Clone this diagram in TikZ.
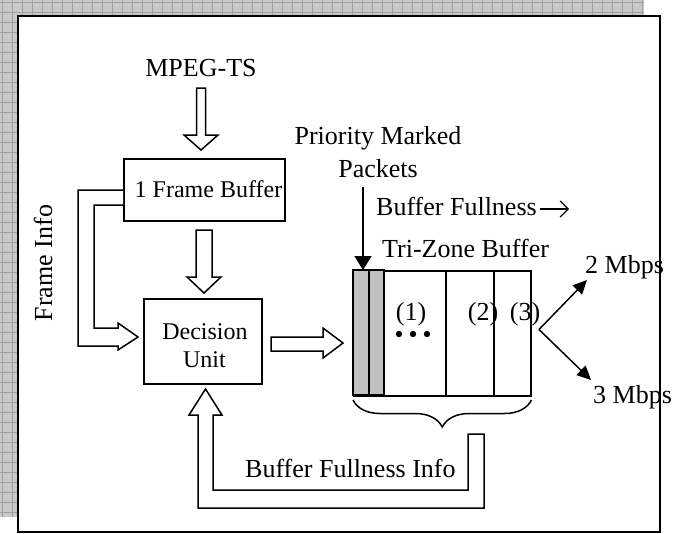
\documentclass[tikz,border=0pt]{standalone}
\usepackage{fontspec}
\setmainfont{Liberation Serif}
\usetikzlibrary{arrows.meta,decorations.pathreplacing}
\definecolor{bggray}{HTML}{C8C8C8}
\definecolor{gridline}{HTML}{A0A0A0}
\definecolor{cellgray}{HTML}{C0C0C0}
\begin{document}
\begin{tikzpicture}[x=1pt,y=-1pt,
  lbl/.style={font=\fontsize{26}{30}\selectfont, inner sep=0pt},
  boxtxt/.style={font=\fontsize{24}{28}\selectfont, inner sep=0pt},
  blk/.style={draw=black, line width=1.5pt, inner sep=0pt},
  hollow/.style={draw=black, line width=1.5pt, fill=white, line join=miter},
  thinarrow/.style={draw=black, line width=1.5pt, -{Triangle[length=14pt,width=13pt]}},
]
\useasboundingbox (0,0) rectangle (698,533);
% background grid
\fill[bggray] (0,0) rectangle (644,517);
\foreach \i in {0,...,64} \draw[gridline, line width=0.8pt] ({2.3+10*\i},0) -- ({2.3+10*\i},517);
\foreach \j in {0,...,51} \draw[gridline, line width=0.8pt] (0,{2.3+10*\j}) -- (644,{2.3+10*\j});
\filldraw[fill=white, draw=black, line width=2pt] (17.5,16) rectangle (660,532);

% boxes
\node[blk, minimum width=161pt, minimum height=62pt, anchor=north west] (fb) at (123,158) {};
\node[blk, minimum width=118pt, minimum height=85pt, anchor=north west] (du) at (143,298) {};
\node[blk, fill=white, minimum width=177pt, minimum height=125pt, anchor=north west] (buf) at (353,270) {};
\filldraw[fill=cellgray, draw=black, line width=1.5pt] (353,270) rectangle (369,395);
\filldraw[fill=cellgray, draw=black, line width=1.5pt] (369,270) rectangle (384,395);
\draw[black, line width=1.5pt] (446,270) -- (446,395);
\draw[black, line width=1.5pt] (494,270) -- (494,395);

% texts
\node[lbl, anchor=base] (mpeg) at (201,76) {MPEG-TS};
\node[boxtxt, anchor=base] (fbt) at (208.5,197) {1 Frame Buffer};
\node[boxtxt, anchor=base] (dut1) at (205,339) {Decision};
\node[boxtxt, anchor=base] (dut2) at (204.5,367) {Unit};
\node[lbl, anchor=base] (pm) at (378,144) {Priority Marked};
\node[lbl, anchor=base] (pk) at (378,177) {Packets};
\node[lbl, anchor=base west] (bf) at (376,215) {Buffer Fullness};
\node[lbl, anchor=base west] (tz) at (382,257) {Tri-Zone Buffer};
\node[lbl, anchor=base] (z1) at (411,320) {(1)};
\node[lbl, anchor=base] (z2) at (483,320) {(2)};
\node[lbl, anchor=base] (z3) at (525,320) {(3)};
\node[lbl, anchor=base west] (m2) at (585,273) {2 Mbps};
\node[lbl, anchor=base west] (m3) at (593,403) {3 Mbps};
\node[lbl, anchor=base west] (bfi) at (245,477) {Buffer Fullness Info};
\node[lbl, anchor=base, rotate=90] (fi) at (52,263) {Frame Info};

% dots
\fill (399,334) circle (3.2);
\fill (413,334) circle (3.2);
\fill (427,334) circle (3.2);

% hollow arrows
\draw[hollow] (196.5,88) -- (205.5,88) -- (205.5,135) -- (218,135) -- (201,150) -- (184,135) -- (196.5,135) -- cycle;
\draw[hollow] (196,230) -- (212,230) -- (212,277) -- (221,277) -- (204,293) -- (187,277) -- (196,277) -- cycle;
\draw[hollow] (271,337) -- (323,337) -- (323,328) -- (343,343) -- (323,358) -- (323,351) -- (271,351) -- cycle;
\draw[hollow] (fb.west |- 0,190) -- (78,190) -- (78,346) -- (118,346) -- (118,350) -- (138,337) -- (118,323) -- (118,328) -- (94,328) -- (94,205) -- (fb.west |- 0,205);
\draw[hollow] (468,434) -- (484,434) -- (484,508) -- (198,508) -- (198,415) -- (189,415) -- (205.5,389) -- (222,415) -- (213,415) -- (213,490) -- (468,490) -- cycle;

% thin arrows
\coordinate (pkA) at (363,187);
\draw[draw=black, line width=1.5pt, -{Triangle[length=14pt,width=17pt]}] (pkA) -- (pkA |- buf.north);
\coordinate (split) at (539,329.5);
\coordinate (t2) at (587,280);
\coordinate (t3) at (591,380);
\draw[thinarrow] (split) -- (t2);
\draw[thinarrow] (split) -- (t3);
\coordinate (bfa) at (540,209);
\draw[draw=black, line width=1.2pt, -{Straight Barb[length=8pt,width=16pt]}] (bfa) -- ++(29,0);

% brace
\draw[black, line width=1.5pt, decorate, decoration={brace, mirror, amplitude=27pt}] (buf.south west |- 0,400) -- (buf.south east |- 0,400);
\end{tikzpicture}
\end{document}
